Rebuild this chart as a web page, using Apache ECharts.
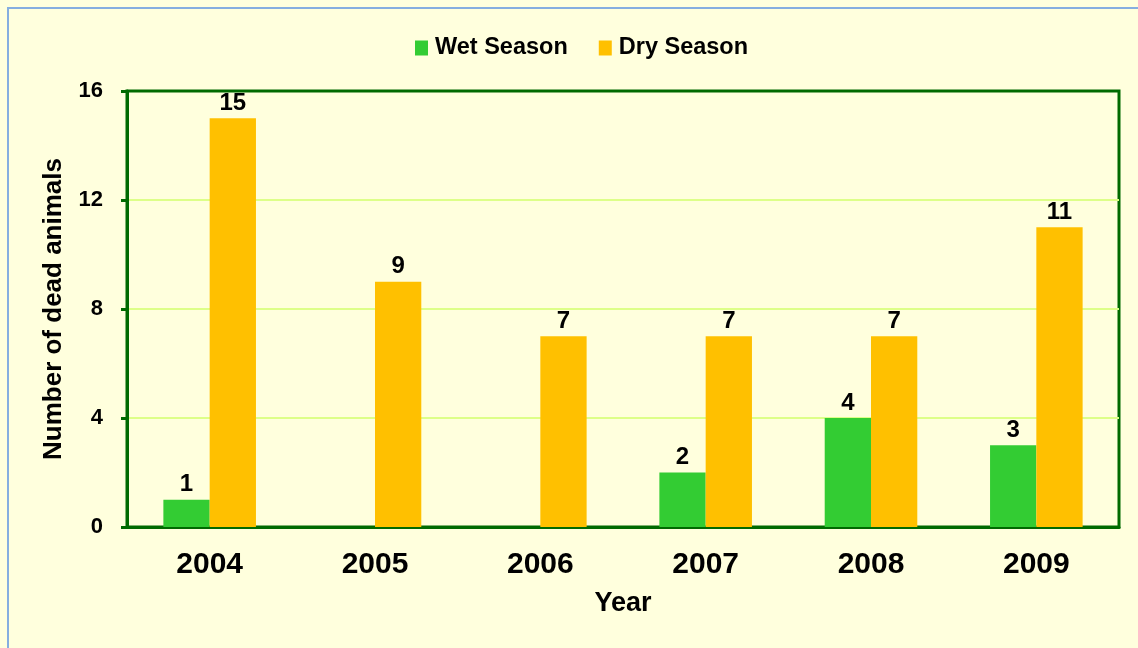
<!DOCTYPE html>
<html lang="en">
<head>
    <meta charset="UTF-8">
    <title>Number of dead animals by season</title>
    <script src="https://cdn.jsdelivr.net/npm/echarts/dist/echarts.min.js"></script>
    <style>
        html, body { margin: 0; padding: 0; background: #FFFFDD; }
        #frame {
            position: absolute; left: 7px; top: 7px;
            width: 1140px; height: 650px;
            border: 2px solid #86AEE0;
            box-sizing: border-box;
        }
        #chart { position: absolute; left: 0; top: 0; width: 1138px; height: 648px; }
    </style>
</head>
<body>
    <div id="frame"></div>
    <div id="chart"></div>

    <script>
        var years = ['2004', '2005', '2006', '2007', '2008', '2009'];
        var wetSeason = [1, 0, 0, 2, 4, 3];
        var drySeason = [15, 9, 7, 7, 7, 11];

        var fontName = '"Liberation Sans", Arial, sans-serif';
        var darkGreen = '#006A00';

        var chart = echarts.init(document.getElementById('chart'));

        // zero bars get no label
        function valueLabel(p) {
            return p.value === 0 ? '' : p.value;
        }

        var option = {
            backgroundColor: 'transparent',
            textStyle: { fontFamily: fontName },
            legend: {
                top: 31,
                left: 410,
                icon: 'rect',
                itemWidth: 13,
                itemHeight: 15,
                itemGap: 31,
                textStyle: { fontSize: 23.5, fontWeight: 'bold', color: '#000', fontFamily: fontName, padding: [0, 0, 0, 2] },
                data: ['Wet Season', 'Dry Season']
            },
            grid: {
                left: 127, right: 19, top: 91, bottom: 121,
                show: true,
                borderColor: darkGreen,
                borderWidth: 3,
                backgroundColor: 'transparent'
            },
            xAxis: {
                type: 'category',
                data: years,
                name: 'Year',
                nameLocation: 'middle',
                nameGap: 63,
                nameTextStyle: { fontSize: 27, fontWeight: 'bold', color: '#000', fontFamily: fontName },
                axisLine: { lineStyle: { color: darkGreen, width: 3 } },
                axisTick: { length: 8, lineStyle: { color: darkGreen, width: 3 } },
                axisLabel: { margin: 23, fontSize: 30, fontWeight: 'bold', color: '#000', fontFamily: fontName }
            },
            yAxis: {
                type: 'value',
                min: 0,
                max: 16,
                interval: 4,
                name: 'Number of dead animals',
                nameLocation: 'middle',
                nameGap: 60,
                nameTextStyle: { fontSize: 26, fontWeight: 'bold', color: '#000', fontFamily: fontName },
                axisLine: { show: true, lineStyle: { color: darkGreen, width: 3 } },
                axisTick: { show: true, length: 6, lineStyle: { color: darkGreen, width: 3 } },
                axisLabel: { margin: 24, fontSize: 22, fontWeight: 'bold', color: '#000', fontFamily: fontName },
                splitLine: { showMaxLine: false, lineStyle: { color: '#DDFF88', width: 2 } }
            },
            series: [
                {
                    name: 'Wet Season',
                    type: 'bar',
                    data: wetSeason,
                    barGap: '0%',
                    barCategoryGap: '44%',
                    itemStyle: { color: '#33CC33' },
                    label: {
                        show: true, position: 'top', distance: 3,
                        fontSize: 24, fontWeight: 'bold', color: '#000', fontFamily: fontName,
                        formatter: valueLabel
                    }
                },
                {
                    name: 'Dry Season',
                    type: 'bar',
                    data: drySeason,
                    itemStyle: { color: '#FFC000' },
                    label: {
                        show: true, position: 'top', distance: 3,
                        fontSize: 24, fontWeight: 'bold', color: '#000', fontFamily: fontName,
                        formatter: valueLabel
                    }
                }
            ]
        };

        chart.setOption(option);
    </script>
</body>
</html>
